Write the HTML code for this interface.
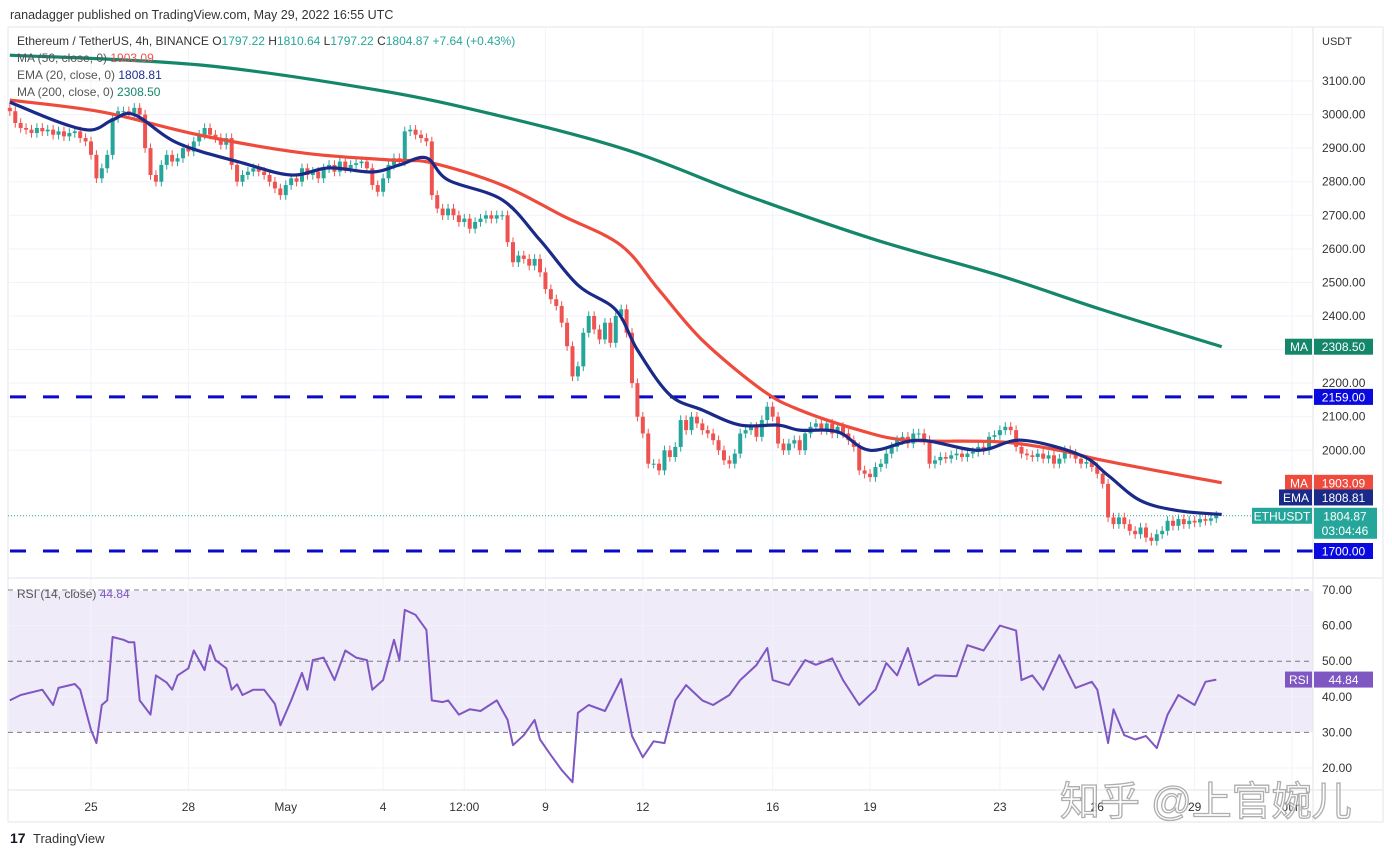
<!DOCTYPE html>
<html><head><meta charset="utf-8">
<style>
html,body{margin:0;padding:0;background:#fff;}
svg{display:block;font-family:"Liberation Sans","Noto Sans CJK SC",sans-serif;}
</style></head>
<body>
<svg id="chart" width="1392" height="857" viewBox="0 0 1392 857" xmlns="http://www.w3.org/2000/svg">
  <text x="10" y="19" font-size="12.5" fill="#333">ranadagger published on TradingView.com, May 29, 2022 16:55 UTC</text>
  <rect x="8" y="27" width="1375" height="795" fill="none" stroke="#e3e6ee"/>
  <rect x="9" y="591" width="1304" height="141" fill="#f0ebf9"/>
  <g id="grid"></g>
  <g id="levels"></g>
  <g id="candles"></g>
  <g id="lines"></g>
  <g id="rsi"></g>
  <line x1="8" y1="578" x2="1383" y2="578" stroke="#e0e3eb"/>
  <line x1="8" y1="790" x2="1383" y2="790" stroke="#e0e3eb"/>
  <line x1="1313" y1="27" x2="1313" y2="822" stroke="#e0e3eb"/>
  <g id="axes"></g>
  <g id="labels"></g>
  <g font-size="12">
    <text x="17" y="45" fill="#333">Ethereum / TetherUS, 4h, BINANCE  <tspan fill="#333">O</tspan><tspan fill="#26a69a">1797.22</tspan>  H<tspan fill="#26a69a">1810.64</tspan>  L<tspan fill="#26a69a">1797.22</tspan>  C<tspan fill="#26a69a">1804.87</tspan>  <tspan fill="#26a69a">+7.64 (+0.43%)</tspan></text>
    <text x="17" y="62" fill="#555">MA (50, close, 0)  <tspan fill="#ef5350">1903.09</tspan></text>
    <text x="17" y="79" fill="#555">EMA (20, close, 0)  <tspan fill="#1e2d8c">1808.81</tspan></text>
    <text x="17" y="96" fill="#555">MA (200, close, 0)  <tspan fill="#14866a">2308.50</tspan></text>
    <text x="17" y="598" fill="#555">RSI (14, close)  <tspan fill="#7e57c2">44.84</tspan></text>
  </g>
  <text x="1322" y="45" font-size="11" fill="#333">USDT</text>
  <text x="1060" y="815" font-size="40" fill="#ffffff" stroke="#a0a0a0" stroke-width="1.3" opacity="0.85">知乎 @上官婉儿</text>
  <g>
    <text x="10" y="843" font-size="14" font-weight="bold" fill="#131722">17</text>
    <text x="33" y="843" font-size="13" fill="#333">TradingView</text>
  </g>
</svg>
<script>
const closes = [3010,2975,2960,2955,2945,2960,2950,2955,2940,2950,2935,2945,2950,2930,2920,
2880,2810,2840,2880,2990,3010,
3010,3005,3020,3000,2900,2820,
2800,2850,2880,2860,2870,2900,
2890,2920,2940,2960,2940,2930,
2910,2930,2850,2800,2820,2830,
2840,2830,2820,2800,2780,2760,
2790,2810,2800,2840,2820,2830,
2810,2840,2850,2830,2860,2840,
2850,2855,2860,2840,2790,2770,
2810,2850,2870,2860,2950,2955,
2940,2930,2920,2760,2720,2700,
2720,2700,2680,2690,2660,2680,
2690,2700,2690,2700,2700,2620,
2560,2580,2570,2550,2570,2530,
2480,2450,2430,2380,2310,2220,
2250,2350,2400,2360,2330,2380,
2320,2400,2420,2350,2200,2100,
2050,1960,1960,1940,2000,1980,
2010,2090,2060,2100,2080,2060,
2050,2030,2000,1970,1960,1990,
2050,2060,2070,2040,2090,2130,
2100,2020,2000,2020,2030,2000,
2050,2070,2080,2060,2080,2050,
2070,2050,2030,2010,1940,1930,
1920,1950,1960,1990,2010,2030,
2040,2020,2050,2050,2030,1960,
1970,1980,1975,1985,1990,1980,
1990,1995,2010,2000,2040,2045,
2060,2070,2060,2010,1990,1985,
1980,1990,1975,1985,1960,1975,
2000,1990,1975,1960,1965,1950,
1930,1900,1800,1780,1800,1780,
1760,1750,1770,1740,1730,1750,
1760,1790,1775,1795,1780,1790,
1785,1795,1790,1797.22,1804.87];
const firstIndex = -15;
const wickSize = 14;
const ma200Idx = [-15,20,53,75,99,121,145,168,187,209];
const ma200Val = [3177,3148,3073,2998,2895,2760,2627,2520,2418,2308.5];
const ma50Idx = [-15,2,20,39,55,63,76,87,98,105,113,124,131,142,151,168,179,187,209];
const ma50Val = [3043,3008,2939,2886,2865,2856,2790,2700,2610,2477,2328,2180,2120,2060,2030,2025,2000,1970,1903.09];
const emaIdx = [-15,-6,0,4,8,16,28,37,44,52,57,62,66,76,83,90,97,101,107,113,120,127,131,138,144,153,164,172,183,188,194,201,209];
const emaVal = [3037,2978,2954,2984,3000,2915,2856,2820,2841,2829,2850,2871,2805,2746,2626,2492,2418,2299,2165,2120,2075,2075,2060,2055,2000,2030,2000,2030,1985,1925,1850,1820,1808.81];
const rsiIdx = [-15,-13,-9,-7,-6,-3,-2,0,1,2,3,4,6,7,8,9,11,12,14,15,16,18,19,21,22,23,25,26,27,28,30,32,34,35,37,39,40,41,43,45,47,49,51,52,54,56,57,58,60,62,63,65,66,68,70,72,75,77,78,80,82,83,85,87,89,90,92,95,98,100,102,104,106,108,110,113,115,118,120,123,125,126,129,132,134,137,139,142,145,147,149,151,153,156,160,162,165,168,171,172,174,176,179,182,185,186,188,189,191,193,195,197,199,201,204,206,208];
const rsiVal = [39,40.5,42,37.7,42.5,43.6,42,30.7,27,37.7,39,56.8,56,55.3,55.3,39,35,46,44,42,46,48,53,47.5,54.5,50.3,48,42,43.5,40.5,42,42,38,32,39,46.7,42,50.3,51,44.7,53,51,50.3,42,44.7,56,50.3,64.4,63,58.8,39,38.5,39,35,36.5,36,39,33.5,26.4,29.2,33.5,28,23.6,19.4,16,35.5,37.7,36,45,29,23,27.5,27,39,43.3,39,37.7,40.5,44.7,48.9,53.7,44.7,43.3,50.3,49,50.8,44.7,37.7,42,49.5,46,53.7,43.3,46,45.8,54.5,53,60,58.6,44.7,46,42,51.7,42.5,44.2,42,27,36.5,29.2,28,29,25.6,35,40.5,37.7,44.2,44.84];
const priceTicks = [3100,3000,2900,2800,2700,2600,2500,2400,2300,2200,2100,2000];
const rsiTicks = [70,60,50,40,30,20];
const dateLabels = ["25","28","May","4","12:00","9","12","16","19","23","26","29","Jun"];
const dateIdx = [0,18,36,54,69,84,102,126,144,168,186,204,222];
const levelValues = [2159,1700];

const NS = "http://www.w3.org/2000/svg";
const xS = i => 91 + i * 5.41;
const yP = p => 81 + (3100 - p) * 0.3357;
const yR = r => 590 + (70 - r) * 3.56;
function mk(tag, attrs, parent, txt){
  const e = document.createElementNS(NS, tag);
  for (const k in attrs) e.setAttribute(k, attrs[k]);
  if (txt !== undefined) e.textContent = txt;
  parent.appendChild(e);
  return e;
}
const grid = document.getElementById('grid');
const axes = document.getElementById('axes');
priceTicks.forEach(p => {
  const l = mk('line', {x1:8, x2:1313, y1:yP(p), y2:yP(p), stroke:'#f0f3fa'}, grid);
  
  
  const t = mk('text', {x:1322, y:yP(p)+4, 'font-size':12, fill:'#333'}, axes, p.toFixed(2));
  
  
});
rsiTicks.forEach(r => {
  const dashed = (r === 70 || r === 50 || r === 30);
  const l = mk('line', {x1:8, x2:1313, y1:yR(r), y2:yR(r), stroke: dashed ? '#787b86' : '#f0f3fa', 'stroke-dasharray': dashed ? '5,4' : 'none'}, grid);
  
  
  const t = mk('text', {x:1322, y:yR(r)+4, 'font-size':12, fill:'#333'}, axes, r.toFixed(2));
  
  
});
dateLabels.forEach((d, k) => {
  const x = xS(dateIdx[k]);
  const l = mk('line', {x1:x, x2:x, y1:27, y2:790, stroke:'#f0f3fa'}, grid);
  
  
  const t = mk('text', {x:x, y:811, 'font-size':12, fill:'#333', 'text-anchor':'middle'}, axes, d);
  
  
});
const lv = document.getElementById('levels');
levelValues.forEach(v => {
  const l = mk('line', {x1:10, x2:1313, y1:yP(v), y2:yP(v), stroke:'#0a0ac8', 'stroke-width':3, 'stroke-dasharray':'16,17'}, lv);
  
  
});
const lastClose = closes[closes.length-1];
const dl = mk('line', {x1:8, x2:1313, y1:yP(lastClose), y2:yP(lastClose), stroke:'#26a69a', 'stroke-dasharray':'1,2'}, lv);



const cg = document.getElementById('candles');
closes.forEach((c, k) => {
  const o = k === 0 ? c + 10 : closes[k-1];
  const up = c >= o;
  const col = up ? '#26a69a' : '#ef5350';
  const x = xS(firstIndex + k);
  const hi = Math.max(o, c) + wickSize, lo = Math.min(o, c) - wickSize;
  const w = mk('line', {x1:x, x2:x, y1:yP(hi), y2:yP(lo), stroke:col, 'stroke-width':1}, cg);
  
  
  const top = yP(Math.max(o, c)), h = Math.max(1, yP(Math.min(o, c)) - top);
  const b = mk('rect', {x:x-2, y:top, width:4, height:h, fill:col}, cg);
  
  
});
const lg = document.getElementById('lines');
function smooth(idx, val, yf){
  const pts = idx.map((i, k) => [xS(i), yf(val[k])]);
  let d = 'M' + pts[0][0].toFixed(1) + ',' + pts[0][1].toFixed(1);
  for (let k = 0; k < pts.length - 1; k++) {
    const p0 = pts[Math.max(0, k-1)], p1 = pts[k], p2 = pts[k+1], p3 = pts[Math.min(pts.length-1, k+2)];
    const c1 = [p1[0] + (p2[0]-p0[0])/6, p1[1] + (p2[1]-p0[1])/6];
    const c2 = [p2[0] - (p3[0]-p1[0])/6, p2[1] - (p3[1]-p1[1])/6];
    d += ' C' + c1[0].toFixed(1) + ',' + c1[1].toFixed(1) + ' ' + c2[0].toFixed(1) + ',' + c2[1].toFixed(1) + ' ' + p2[0].toFixed(1) + ',' + p2[1].toFixed(1);
  }
  return d;
}
function poly(idx, val, yf){ return idx.map((i, k) => (k ? 'L' : 'M') + xS(i).toFixed(1) + ',' + yf(val[k]).toFixed(1)).join(' '); }
const p200 = mk('path', {d:smooth(ma200Idx, ma200Val, yP), fill:'none', stroke:'#14866a', 'stroke-width':3.2, 'stroke-linejoin':'round'}, lg);


const p50 = mk('path', {d:smooth(ma50Idx, ma50Val, yP), fill:'none', stroke:'#ef4b3c', 'stroke-width':3.2, 'stroke-linejoin':'round'}, lg);


const pe = mk('path', {d:smooth(emaIdx, emaVal, yP), fill:'none', stroke:'#1a2a88', 'stroke-width':3.2, 'stroke-linejoin':'round'}, lg);


const rg = document.getElementById('rsi');
const pr = mk('path', {d:poly(rsiIdx, rsiVal, yR), fill:'none', stroke:'#7e57c2', 'stroke-width':2, 'stroke-linejoin':'round'}, rg);



const lb = document.getElementById('labels');
function tag(name, text, value, y, bg, tagW){
  const g = mk('g', {}, lb);
  
  
  if (text) {
    mk('rect', {x:1313 - tagW, y:y-8, width:tagW - 1, height:16, fill:bg}, g);
    mk('text', {x:1313 - tagW/2, y:y+4.5, 'font-size':12, fill:'#fff', 'text-anchor':'middle'}, g, text);
  }
  mk('rect', {x:1314, y:y-8, width:59, height:16, fill:bg}, g);
  mk('text', {x:1343.5, y:y+4.5, 'font-size':12, fill:'#fff', 'text-anchor':'middle'}, g, value);
}
const ma200Last = ma200Val[ma200Val.length-1], ma50Last = ma50Val[ma50Val.length-1], emaLast = emaVal[emaVal.length-1];
tag('ma200-price-tag', 'MA', ma200Last.toFixed(2), yP(ma200Last), '#14866a', 28);
tag('level-2159-tag', '', levelValues[0].toFixed(2), yP(levelValues[0]), '#0a0ae0', 0);
tag('ma50-price-tag', 'MA', ma50Last.toFixed(2), yP(ma50Last), '#ef4b3c', 28);
tag('ema20-price-tag', 'EMA', emaLast.toFixed(2), yP(emaLast) - 17, '#1a2a88', 34);
tag('level-1700-tag', '', levelValues[1].toFixed(2), yP(levelValues[1]), '#0a0ae0', 0);
tag('rsi-value-tag', 'RSI', rsiVal[rsiVal.length-1].toFixed(2), yR(rsiVal[rsiVal.length-1]), '#7e57c2', 28);
const eg = mk('g', {}, lb);


const ly = yP(lastClose);
mk('rect', {x:1252, y:ly-8, width:60, height:16, fill:'#26a69a'}, eg);
mk('text', {x:1282, y:ly+4.5, 'font-size':12, fill:'#fff', 'text-anchor':'middle'}, eg, 'ETHUSDT');
mk('rect', {x:1314, y:ly-8, width:63, height:31, fill:'#26a69a'}, eg);
mk('text', {x:1345, y:ly+4.5, 'font-size':12, fill:'#fff', 'text-anchor':'middle'}, eg, lastClose.toFixed(2));
mk('text', {x:1345, y:ly+19, 'font-size':12, fill:'#fff', 'text-anchor':'middle'}, eg, '03:04:46');
</script>
</body></html>
